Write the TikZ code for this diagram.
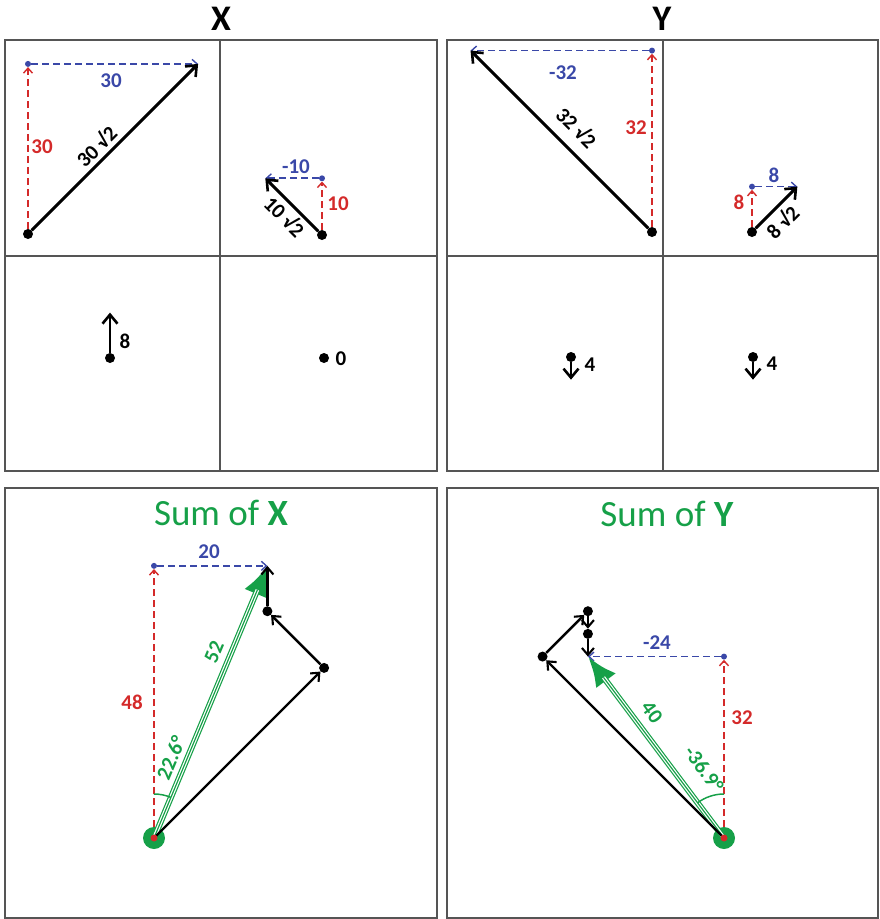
\documentclass[tikz,border=0pt]{standalone}
\usepackage{fontspec}
\setmainfont{Carlito}
\usetikzlibrary{arrows.meta,calc}
\definecolor{vred}{RGB}{212,42,42}
\definecolor{vblue}{RGB}{58,72,168}
\definecolor{vgreen}{RGB}{22,160,72}
\definecolor{framec}{RGB}{85,85,85}
\def\u{5.67}
\begin{document}
\begin{tikzpicture}[x=1pt,y=-1pt,
  panel/.style={draw=framec,line width=1.4pt},
  vec/.style={line width=2.9pt,-{Straight Barb[length=9pt,width=15pt,line width=2.6pt]}},
  svec/.style={line width=2.4pt,-{Straight Barb[length=7pt,width=12pt,line width=2.1pt]}},
  rdash/.style={vred,line width=1.7pt,dash pattern=on 7pt off 4pt,-{Straight Barb[length=5pt,width=9pt,line width=1.4pt]}},
  bdash/.style={vblue,line width=1.7pt,dash pattern=on 7pt off 4pt,-{Straight Barb[length=5pt,width=9pt,line width=1.4pt]}},
  dot/.style={circle,fill=black,inner sep=0pt,minimum size=10pt},
  bdot/.style={circle,fill=vblue,inner sep=0pt,minimum size=6pt},
  rdot/.style={circle,fill=vred,inner sep=0pt,minimum size=7pt},
  gdisc/.style={circle,fill=vgreen,inner sep=0pt,minimum size=22pt},
  lbl/.style={font=\fontsize{21}{21}\selectfont\bfseries,inner sep=0pt},
  title/.style={font=\fontsize{36}{36}\selectfont\bfseries,inner sep=0pt},
  stitle/.style={font=\fontsize{37}{37}\selectfont,text=vgreen,inner sep=0pt},
  garrow/.style={vgreen,line width=6pt,-{Latex[length=30pt,width=25pt]}},
  gin/.style={white,line width=3.6pt,shorten >=26pt},
  gcore/.style={vgreen,line width=1.2pt,shorten >=26pt},
  garc/.style={vgreen,line width=1.5pt}
]
\useasboundingbox (0,0) rectangle (879,919);
% titles
\node[title] (tX) at (221,19) {X};
\node[title] (tY) at (662,19) {Y};
% panel frames
\draw[panel] (5,40) rectangle (437,471);
\draw[panel] (220,40) -- (220,471);
\draw[panel] (5,256) -- (437,256);
\draw[panel] (447,40) rectangle (878,471);
\draw[panel] (663,40) -- (663,471);
\draw[panel] (447,256) -- (878,256);
\draw[panel] (5,488) rectangle (437,918);
\draw[panel] (447,488) rectangle (878,918);

% ---- X panel 1 : 30 sqrt2 at 45
\node[dot] (xa) at (28,234) {};
\coordinate (xat) at ($(xa)+(30*\u,-30*\u)$);
\node[bdot] (xab) at ($(xa)+(0,-30*\u)$) {};
\draw[rdash] (xa) -- (xab);
\draw[bdash] (xab) -- (xat);
\draw[vec] (xa) -- (xat);
\node[lbl,text=vblue] (xal1) at (111,81) {30};
\node[lbl,text=vred] (xal2) at (42,147) {30};
\node[lbl,rotate=45] (xal3) at (96,146) {30 √2};

% ---- X panel 2 : 10 sqrt2 at 135
\node[dot] (xb) at (322,235) {};
\coordinate (xbt) at ($(xb)+(-10*\u,-10*\u)$);
\node[bdot] (xbb) at ($(xb)+(0,-10*\u)$) {};
\draw[rdash] (xb) -- (xbb);
\draw[bdash] (xbb) -- (xbt);
\draw[vec] (xb) -- (xbt);
\node[lbl,text=vblue] (xbl1) at (296,167) {-10};
\node[lbl,text=vred] (xbl2) at (338,204) {10};
\node[lbl,rotate=-45] (xbl3) at (285,216) {10 √2};

% ---- X panel 3 : 8 up
\node[dot] (xc) at (110,358) {};
\coordinate (xct) at ($(xc)+(0,-8*\u)$);
\draw[vec] (xc) -- (xct);
\node[lbl] (xcl) at (125,341) {8};

% ---- X panel 4 : 0
\node[dot] (xd) at (324,358) {};
\node[lbl] (xdl) at (341,359) {0};

% ---- Y panel 1 : 32 sqrt2 at 135
\node[dot] (ya) at (652,232) {};
\coordinate (yat) at ($(ya)+(-32*\u,-32*\u)$);
\node[bdot] (yab) at ($(ya)+(0,-32*\u)$) {};
\draw[rdash] (ya) -- (yab);
\draw[bdash] (yab) -- (yat);
\draw[vec] (ya) -- (yat);
\node[lbl,text=vblue] (yal1) at (563,73) {-32};
\node[lbl,text=vred] (yal2) at (636,128) {32};
\node[lbl,rotate=-45] (yal3) at (577,127) {32 √2};

% ---- Y panel 2 : 8 sqrt2 at 45
\node[dot] (yb) at (752,232) {};
\coordinate (ybt) at ($(yb)+(8*\u,-8*\u)$);
\node[bdot] (ybb) at ($(yb)+(0,-8*\u)$) {};
\draw[rdash] (yb) -- (ybb);
\draw[bdash] (ybb) -- (ybt);
\draw[vec] (yb) -- (ybt);
\node[lbl,text=vblue] (ybl1) at (774,175) {8};
\node[lbl,text=vred] (ybl2) at (739,202) {8};
\node[lbl,rotate=45] (ybl3) at (782,222) {8 √2};

% ---- Y panel 3 and 4 : 4 down
\node[dot] (yc) at (571,357) {};
\coordinate (yct) at ($(yc)+(0,4*\u)$);
\draw[vec] (yc) -- (yct);
\node[lbl] (ycl) at (590,365) {4};
\node[dot] (yd) at (753,357) {};
\coordinate (ydt) at ($(yd)+(0,4*\u)$);
\draw[vec] (yd) -- (ydt);
\node[lbl] (ydl) at (772,364) {4};

% ==== Sum of X
\node[stitle] (sxT) at (221,513) {Sum of \textbf{X}};
\coordinate (sxo) at (154,838);
\coordinate (sxp1c) at ($(sxo)+(30*\u,-30*\u)$);
\coordinate (sxp2c) at ($(sxp1c)+(-10*\u,-10*\u)$);
\coordinate (sxe) at ($(sxp2c)+(0,-8*\u)$);
\node[bdot] (sxb) at ($(sxo)+(0,-48*\u)$) {};
\draw[rdash] (sxo) -- (sxb);
\draw[bdash] (sxb) -- (sxe);
\node[gdisc] (sxd) at (sxo) {};
\draw[garrow] (sxd.center) -- (sxe);
\draw[gin] (sxd.center) -- (sxe);
\draw[gcore] (sxd.center) -- (sxe);
\node[dot] (sxp1) at (sxp1c) {};
\node[dot] (sxp2) at (sxp2c) {};
\draw[svec] (sxd.center) -- (sxp1);
\draw[svec] (sxp1) -- (sxp2);
\draw[svec] (sxp2) -- (sxe);
\node[rdot] (sxr) at (sxo) {};
\draw[garc] ($(sxo)+(0,-44)$) arc[start angle=-90,end angle=-67.4,radius=44];
\node[lbl,text=vblue] (sxl1) at (209,552) {20};
\node[lbl,text=vred] (sxl2) at (132,702) {48};
\node[lbl,text=vgreen,rotate=67.3] (sxl3) at (214,652) {52};
\node[lbl,text=vgreen,rotate=67.3] (sxl4) at (171,758) {22.6°};

% ==== Sum of Y
\node[stitle] (syT) at (667,514) {Sum of \textbf{Y}};
\coordinate (syo) at (724,838);
\coordinate (syp1c) at ($(syo)+(-32*\u,-32*\u)$);
\coordinate (syp2c) at ($(syp1c)+(8*\u,-8*\u)$);
\coordinate (syp3c) at ($(syp2c)+(0,4*\u)$);
\coordinate (sye) at ($(syp3c)+(0,4*\u)$);
\node[bdot] (syb) at ($(syo)+(0,-32*\u)$) {};
\draw[rdash] (syo) -- (syb);
\draw[bdash] (syb) -- (sye);
\node[gdisc] (syd) at (syo) {};
\draw[garrow] (syd.center) -- (sye);
\draw[gin] (syd.center) -- (sye);
\draw[gcore] (syd.center) -- (sye);
\node[dot] (syp1) at (syp1c) {};
\node[dot] (syp2) at (syp2c) {};
\node[dot] (syp3) at (syp3c) {};
\draw[svec] (syd.center) -- (syp1);
\draw[svec] (syp1) -- (syp2);
\draw[svec] (syp2) -- (syp3);
\draw[svec] (syp3) -- (sye);
\node[rdot] (syr) at (syo) {};
\draw[garc] ($(syo)+(0,-44)$) arc[start angle=-90,end angle=-126.9,radius=44];
\node[lbl,text=vblue] (syl1) at (657,643) {-24};
\node[lbl,text=vred] (syl2) at (742,718) {32};
\node[lbl,text=vgreen,rotate=-53.9] (syl3) at (652,712) {40};
\node[lbl,text=vgreen,rotate=-53.9] (syl4) at (704,769) {-36.9°};
\end{tikzpicture}
\end{document}
